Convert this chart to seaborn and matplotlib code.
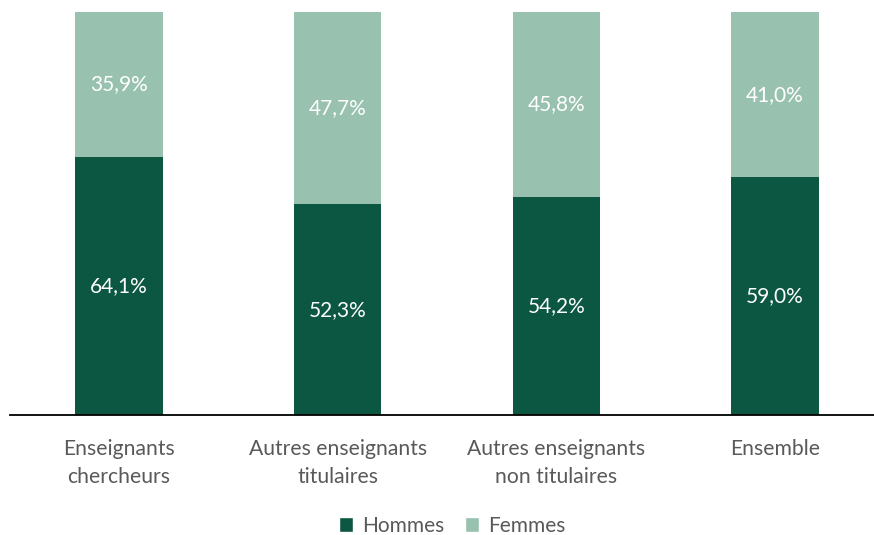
import matplotlib.pyplot as plt
import seaborn as sns
import pandas as pd
from matplotlib.patches import Patch

categories = ['Enseignants\nchercheurs', 'Autres enseignants\ntitulaires',
              'Autres enseignants\nnon titulaires', 'Ensemble']
hommes = [64.1, 52.3, 54.2, 59.0]
femmes = [35.9, 47.7, 45.8, 41.0]

dark = '#0b5742'
light = '#98c1af'
grey = '#595959'

sns.set_theme(style='white')
plt.rcParams['font.family'] = ['Lato', 'DejaVu Sans']

df = pd.DataFrame({'cat': categories, 'Hommes': hommes, 'Femmes': femmes})
df['total'] = df['Hommes'] + df['Femmes']

fig = plt.figure(figsize=(8.74, 5.35), dpi=100)
ax = fig.add_axes([10 / 874, 1 - 415 / 535, 864 / 874, 403 / 535])

# stacked: total first (light), then Hommes on top (dark)
sns.barplot(data=df, x='cat', y='total', color=light, width=0.4,
            saturation=1, linewidth=0, ax=ax)
sns.barplot(data=df, x='cat', y='Hommes', color=dark, width=0.4,
            saturation=1, linewidth=0, ax=ax)

bars_total = ax.containers[0]
for rect, h, f in zip(bars_total, hommes, femmes):
    x = rect.get_x() + rect.get_width() / 2
    ax.text(x, h + f / 2, f'{f:.1f}%'.replace('.', ','), ha='center',
            va='center', color='white', fontsize=15)
    ax.text(x, h / 2, f'{h:.1f}%'.replace('.', ','), ha='center',
            va='center', color='white', fontsize=15)

ax.set_ylim(0, 100)
ax.set_xlim(-0.498, 3.453)
ax.set_xlabel('')
ax.set_ylabel('')
ax.set_yticks([])
for s in ['top', 'right', 'left']:
    ax.spines[s].set_visible(False)
ax.spines['bottom'].set_color('black')
ax.spines['bottom'].set_linewidth(1.3)
ax.tick_params(axis='x', length=0, pad=17, labelsize=15.2, labelcolor=grey)
for lbl in ax.get_xticklabels():
    lbl.set_linespacing(1.5)

handles = [Patch(facecolor=dark, label='Hommes'),
           Patch(facecolor=light, label='Femmes')]
fig.legend(handles=handles, loc='center', bbox_to_anchor=(452 / 874, 1 - 526 / 535),
           ncol=2, frameon=False, fontsize=15, handlelength=0.7,
           handleheight=0.7, handletextpad=0.4, columnspacing=1.0,
           labelcolor=grey)

fig.savefig('out.png', dpi=100)
